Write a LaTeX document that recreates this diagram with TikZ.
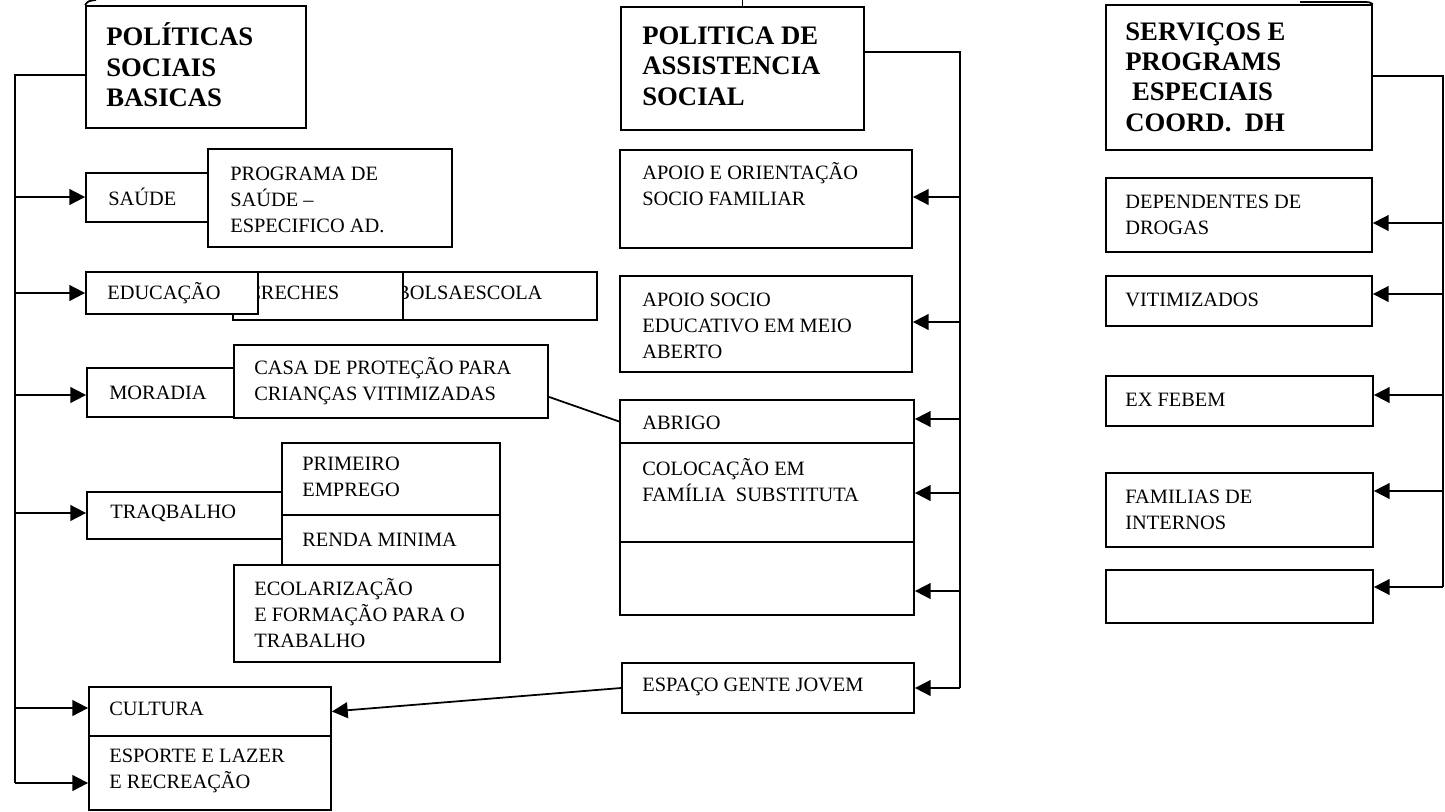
\documentclass[tikz,border=0pt]{standalone}
\usepackage{fontspec}
\setmainfont{Liberation Serif}
\usetikzlibrary{arrows.meta,fit,calc}
\tikzset{
  box/.style={draw, line width=1pt, fill=white, inner sep=0pt},
  txt/.style={anchor=west, inner sep=0pt, align=left, font=\fontsize{11.6}{14.7}\selectfont},
  hdr/.style={anchor=west, inner sep=0pt, align=left, font=\fontsize{15.2}{17.3}\selectfont\bfseries},
  wire/.style={line width=1pt},
  arr/.style={wire, -{Triangle[length=9pt,width=9pt]}}
}
\begin{document}
\begin{tikzpicture}[x=0.02cm, y=-0.02cm]
      \useasboundingbox (0,0) rectangle (1445,812);
      \coordinate (top) at (0,0);
      \node[box, fit={(86,6) (306,128)}] (psb) {};
      \node[hdr] (psbt) at (106,65) {POLÍTICAS\\SOCIAIS\\BASICAS};
      \node[box, fit={(86,173) (208,222)}] (saude) {};
      \node[txt] (saudet) at (108,197) {SAÚDE};
      \node[box, fit={(208,149) (452,247)}] (prog) {};
      \node[txt] (progt) at (230,200) {PROGRAMA DE\\SAÚDE –\\ESPECIFICO AD.};
      \node[box, fit={(403,272) (597,320)}] (bolsa) {};
      \node[txt] (bolsat) at (396,293) {BOLSAESCOLA};
      \node[box, fit={(233,272) (403,320)}] (creches) {};
      \node[txt] (crechest) at (247,293) {CRECHES};
      \node[box, fit={(86,272) (258,314)}] (educ) {};
      \node[txt] (euct) at (107,293) {EDUCAÇÃO};
      \node[box, fit={(87,368) (234,417)}] (mora) {};
      \node[txt] (morat) at (109,393) {MORADIA};
      \node[box, fit={(234,345) (548,418)}] (casa) {};
      \node[txt] (casat) at (254,381) {CASA DE PROTEÇÃO PARA\\CRIANÇAS VITIMIZADAS};
      \node[box, fit={(87,492) (282,539)}] (traq) {};
      \node[txt] (traqt) at (110,513) {TRAQBALHO};
      \node[box, fit={(282,443) (500,515)}] (prim) {};
      \node[txt] (primt) at (302,477) {PRIMEIRO\\EMPREGO};
      \node[box, fit={(282,515) (500,565)}] (renda) {};
      \node[txt] (rendat) at (302,540) {RENDA MINIMA};
      \node[box, fit={(234,565) (500,662)}] (ecol) {};
      \node[txt] (ecolt) at (254,613) {ECOLARIZAÇÃO\\E FORMAÇÃO PARA O\\TRABALHO};
      \node[box, fit={(89,687) (331,736)}] (cult) {};
      \node[txt] (cultt) at (109,709) {CULTURA};
      \node[box, fit={(89,736) (331,810)}] (esp) {};
      \node[txt] (espt) at (109,771) {ESPORTE E LAZER\\E RECREAÇÃO};
      \node[box, fit={(621,7) (864,130)}] (pas) {};
      \node[hdr] (past) at (642,66) {POLITICA DE\\ASSISTENCIA\\SOCIAL};
      \node[box, fit={(620,150) (912,248)}] (apo1) {};
      \node[txt] (apo1t) at (642,184) {APOIO E ORIENTAÇÃO\\SOCIO FAMILIAR};
      \node[box, fit={(620,276) (912,372)}] (apo2) {};
      \node[txt] (apo2t) at (642,326) {APOIO SOCIO\\EDUCATIVO EM MEIO\\ABERTO};
      \node[box, fit={(620,400) (914,443)}] (abrigo) {};
      \node[txt] (abrigot) at (642,423) {ABRIGO};
      \node[box, fit={(620,443) (914,542)}] (coloc) {};
      \node[txt] (coloct) at (642,480) {COLOCAÇÃO EM\\FAMÍLIA\ \ SUBSTITUTA};
      \node[box, fit={(620,542) (914,615)}] (vazio) {};
      \node[box, fit={(622,663) (914,713)}] (espaco) {};
      \node[txt] (espacot) at (642,687) {ESPAÇO GENTE JOVEM};
      \node[box, fit={(1106,5) (1372,150)}] (srv) {};
      \node[hdr] (srvt) at (1125,77) {SERVIÇOS E\\PROGRAMS\\\hspace*{.25em}ESPECIAIS\\COORD.\ \ DH};
      \node[box, fit={(1106,178) (1372,252)}] (dep) {};
      \node[txt] (dept) at (1125,215) {DEPENDENTES DE\\DROGAS};
      \node[box, fit={(1106,276) (1372,326)}] (vit) {};
      \node[txt] (vitt) at (1125,300) {VITIMIZADOS};
      \node[box, fit={(1106,376) (1373,426)}] (exf) {};
      \node[txt] (exft) at (1125,400) {EX FEBEM};
      \node[box, fit={(1106,473) (1373,547)}] (fam) {};
      \node[txt] (famt) at (1125,510) {FAMILIAS DE\\INTERNOS};
      \node[box, fit={(1106,570) (1373,623)}] (vazio2) {};
      \coordinate (l0) at (15,75);
      \coordinate (l1) at (15,197);
      \coordinate (l2) at (15,293);
      \coordinate (l3) at (15,395);
      \coordinate (l4) at (15,513);
      \coordinate (l5) at (15,708);
      \coordinate (l6) at (15,783);
      \coordinate (m0) at (960,52);
      \coordinate (m1) at (960,197);
      \coordinate (m2) at (960,322);
      \coordinate (m3) at (960,419);
      \coordinate (m4) at (960,493);
      \coordinate (m5) at (960,591);
      \coordinate (m6) at (960,688);
      \coordinate (r0) at (1443,76);
      \coordinate (r1) at (1443,223);
      \coordinate (r2) at (1443,294);
      \coordinate (r3) at (1443,395);
      \coordinate (r4) at (1443,491);
      \coordinate (r5) at (1443,587);
      \draw[wire] (psb.west |- l0) -- (l0) -- (l6);
      \draw[arr] (l1) -- (l1 -| saude.west);
      \draw[arr] (l2) -- (l2 -| educ.west);
      \draw[arr] (l3) -- (l3 -| mora.west);
      \draw[arr] (l4) -- (l4 -| traq.west);
      \draw[arr] (l5) -- (l5 -| cult.west);
      \draw[arr] (l6) -- (l6 -| esp.west);
      \draw[wire] (pas.east |- m0) -- (m0) -- (m6);
      \draw[arr] (m1) -- (m1 -| apo1.east);
      \draw[arr] (m2) -- (m2 -| apo2.east);
      \draw[arr] (m3) -- (m3 -| abrigo.east);
      \draw[arr] (m4) -- (m4 -| coloc.east);
      \draw[arr] (m5) -- (m5 -| vazio.east);
      \draw[arr] (m6) -- (m6 -| espaco.east);
      \draw[wire] (srv.east |- r0) -- (r0) -- (r5);
      \draw[arr] (r1) -- (r1 -| dep.east);
      \draw[arr] (r2) -- (r2 -| vit.east);
      \draw[arr] (r3) -- (r3 -| exf.east);
      \draw[arr] (r4) -- (r4 -| fam.east);
      \draw[arr] (r5) -- (r5 -| vazio2.east);
      \draw[wire] ($(casa.south east)+(0,-22)$) -- (abrigo.west);
      \draw[arr] (espaco.west) -- (cult.east);
      \draw[wire] (pas.north) -- (pas.north |- top);
      \draw[wire] (psb.north west) .. controls (88,1) .. (96,0);
      \draw[wire] (1300,2) -- (1360,2) .. controls (1370,2) .. (srv.north east);
    \end{tikzpicture}
\end{document}
